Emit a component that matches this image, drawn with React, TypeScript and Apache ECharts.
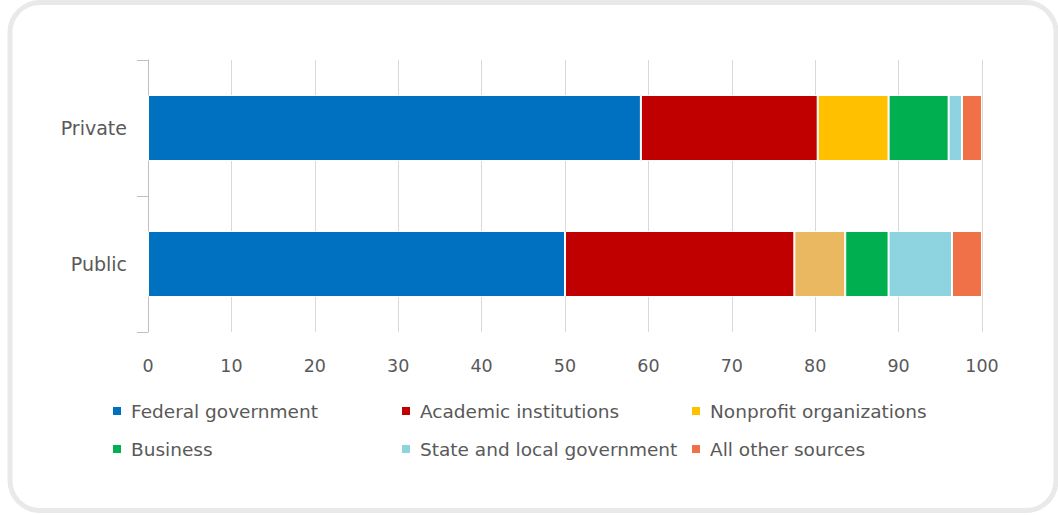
import React, { useEffect, useRef } from "react";
import * as echarts from "echarts";

const categories = ["Private", "Public"];
const seriesNames = [
  "Federal government",
  "Academic institutions",
  "Nonprofit organizations",
  "Business",
  "State and local government",
  "All other sources",
];
const federal = [59.1, 50.0];
const academic = [21.2, 27.5];
const nonprofit = [8.5, 6.1];
const business = [7.2, 5.2];
const stateLocal = [1.6, 7.6];
const otherSources = [2.4, 3.6];
const xTicks = [0, 10, 20, 30, 40, 50, 60, 70, 80, 90, 100];

const colors = ["#0070C0", "#C00000", "#FFC000", "#00B050", "#8DD3E0", "#F07048"];
const publicNonprofitColor = "#EBB862";

export default function App() {
  const ref = useRef<HTMLDivElement>(null);
  useEffect(() => {
    if (!ref.current) return;
    const chart = echarts.init(ref.current, null, { renderer: "svg" });
    const values = [federal, academic, nonprofit, business, stateLocal, otherSources];
    const font = "DejaVu Sans";
    const textColor = "#595959";
    const legendPos = [
      [111, 401],
      [400, 401],
      [690, 401],
      [111, 439],
      [400, 439],
      [690, 439],
    ];
    chart.setOption({
      animation: false,
      color: colors,
      grid: { left: 148, right: 76, top: 60, bottom: 183 },
      graphic: [
        {
          type: "rect",
          shape: { x: 10, y: 2.5, width: 1046, height: 508, r: 30 },
          style: { fill: "none", stroke: "#e9e9e9", lineWidth: 5 },
          z: -10,
        },
      ],
      xAxis: {
        type: "value",
        min: 0,
        max: 100,
        interval: 10,
        axisLine: { show: false },
        axisTick: { show: false },
        splitLine: { show: true, lineStyle: { color: "#d9d9d9", width: 1 } },
        axisLabel: {
          color: textColor,
          fontFamily: font,
          fontSize: 17.5,
          margin: 25,
          formatter: (v: number) => (xTicks.includes(v) ? String(v) : ""),
        },
      },
      yAxis: {
        type: "category",
        data: categories,
        inverse: true,
        axisLine: { show: true, lineStyle: { color: "#bfbfbf", width: 1 } },
        axisTick: { show: true, length: 11, lineStyle: { color: "#bfbfbf" } },
        axisLabel: { color: textColor, fontFamily: font, fontSize: 19, margin: 21 },
      },
      legend: seriesNames.map((n, i) => ({
        data: [n],
        left: legendPos[i][0],
        top: legendPos[i][1],
        icon: "rect",
        itemWidth: 10,
        itemHeight: 10,
        itemGap: 0,
        padding: 0,
        selectedMode: false,
        textStyle: {
          color: textColor,
          fontFamily: font,
          fontSize: 18.5,
          lineHeight: 20,
          padding: [0, 0, 0, 4],
        },
      })),
      series: seriesNames.map((n, i) => ({
        name: n,
        type: "bar",
        stack: "total",
        barWidth: 66,
        itemStyle: { borderColor: "#ffffff", borderWidth: 1 },
        data: values[i].map((v, j) =>
          i === 2 && j === 1 ? { value: v, itemStyle: { color: publicNonprofitColor } } : v
        ),
      })),
    });
    return () => chart.dispose();
  }, []);
  return (
    <div
      ref={ref}
      style={{ position: "fixed", left: 0, top: 0, width: 1058, height: 515, background: "#fff" }}
    />
  );
}
